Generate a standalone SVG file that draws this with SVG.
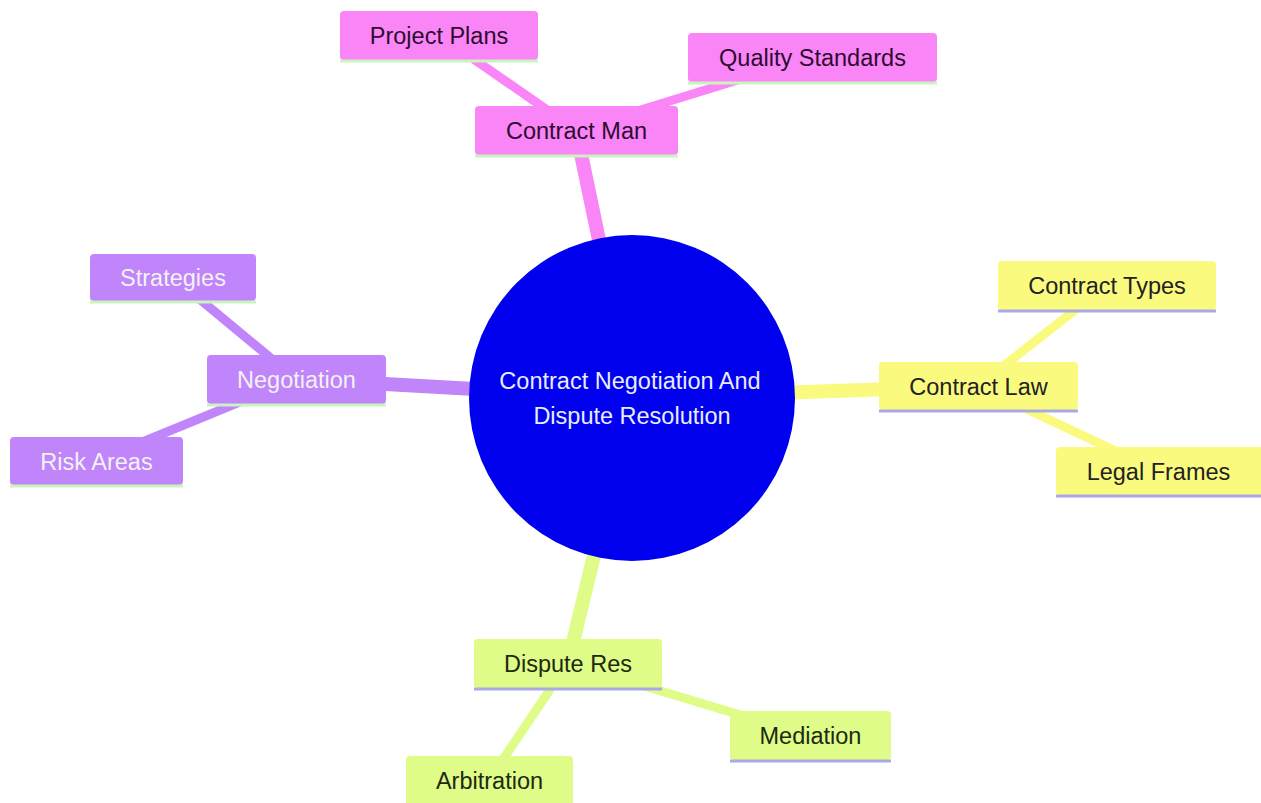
<svg xmlns="http://www.w3.org/2000/svg" width="1261" height="803" viewBox="0 0 1261 803">
<style>
text{font-family:"Liberation Sans",Arial,sans-serif;font-size:23.5px;text-anchor:middle}
.e1{stroke-width:14;stroke-linecap:butt;fill:none}
.e2{stroke-width:9;stroke-linecap:butt;fill:none}
.pk{fill:#f985f6}.pkS{stroke:#f985f6}.pkT{fill:#2e0b30}
.pu{fill:#c084fb}.puS{stroke:#c084fb}.puT{fill:#f2f2f2}
.ye{fill:#fafa7e}.yeS{stroke:#fafa7e}.yeT{fill:#222222}
.gr{fill:#dffb88}.grS{stroke:#dffb88}.grT{fill:#1c2a10}
.lg{stroke:#c9f3bf;stroke-width:3}
.lv{stroke:#a9a9e6;stroke-width:3}
</style>
<rect width="1261" height="803" fill="#ffffff"/>
<g id="connectors">
<line class="e1 pkS" x1="632" y1="398" x2="576" y2="130"/>
<line class="e1 puS" x1="632" y1="398" x2="296" y2="379"/>
<line class="e1 yeS" x1="632" y1="398" x2="978" y2="386"/>
<line class="e1 grS" x1="632" y1="398" x2="568" y2="663"/>
<line class="e2 pkS" x1="439" y1="35" x2="576" y2="130"/>
<line class="e2 pkS" x1="812" y1="57" x2="576" y2="130"/>
<line class="e2 puS" x1="173" y1="277" x2="296" y2="379"/>
<line class="e2 puS" x1="96" y1="461" x2="296" y2="379"/>
<line class="e2 yeS" x1="1107" y1="285" x2="978" y2="386"/>
<line class="e2 yeS" x1="1158" y1="471" x2="978" y2="386"/>
<line class="e2 grS" x1="489" y1="780" x2="568" y2="663"/>
<line class="e2 grS" x1="810" y1="736" x2="568" y2="663"/>
</g>
<g id="root">
<circle cx="632" cy="398" r="163" fill="#0000ef"/>
<text x="630" y="389" fill="#e8ecf8">Contract Negotiation And</text>
<text x="632" y="424" fill="#e8ecf8">Dispute Resolution</text>
</g>
<g id="contract-man">
<rect class="pk" x="475" y="106" width="203" height="49" rx="4"/>
<line class="lg" x1="475" y1="156" x2="678" y2="156"/>
<text class="pkT" x="576.5" y="139">Contract Man</text>
</g>
<g id="project-plans">
<rect class="pk" x="340" y="11" width="198" height="49" rx="4"/>
<line class="lg" x1="340" y1="61" x2="538" y2="61"/>
<text class="pkT" x="439" y="44">Project Plans</text>
</g>
<g id="quality-standards">
<rect class="pk" x="688" y="33" width="249" height="49" rx="4"/>
<line class="lg" x1="688" y1="83" x2="937" y2="83"/>
<text class="pkT" x="812.5" y="66">Quality Standards</text>
</g>
<g id="negotiation">
<rect class="pu" x="207" y="355" width="179" height="49" rx="4"/>
<line class="lg" x1="207" y1="405" x2="386" y2="405"/>
<text class="puT" x="296.5" y="388">Negotiation</text>
</g>
<g id="strategies">
<rect class="pu" x="90" y="254" width="166" height="47" rx="4"/>
<line class="lg" x1="90" y1="302" x2="256" y2="302"/>
<text class="puT" x="173" y="286">Strategies</text>
</g>
<g id="risk-areas">
<rect class="pu" x="10" y="437" width="173" height="48" rx="4"/>
<line class="lg" x1="10" y1="486" x2="183" y2="486"/>
<text class="puT" x="96.5" y="470">Risk Areas</text>
</g>
<g id="contract-law">
<rect class="ye" x="879" y="362" width="199" height="48" rx="4"/>
<line class="lv" x1="879" y1="411" x2="1078" y2="411"/>
<text class="yeT" x="978.5" y="395">Contract Law</text>
</g>
<g id="contract-types">
<rect class="ye" x="998" y="261" width="218" height="49" rx="4"/>
<line class="lv" x1="998" y1="311" x2="1216" y2="311"/>
<text class="yeT" x="1107" y="294">Contract Types</text>
</g>
<g id="legal-frames">
<rect class="ye" x="1056" y="447" width="210" height="48" rx="4"/>
<line class="lv" x1="1056" y1="496" x2="1261" y2="496"/>
<text class="yeT" x="1158.5" y="480">Legal Frames</text>
</g>
<g id="dispute-res">
<rect class="gr" x="474" y="639" width="188" height="49" rx="4"/>
<line class="lv" x1="474" y1="689" x2="662" y2="689"/>
<text class="grT" x="568" y="672">Dispute Res</text>
</g>
<g id="mediation">
<rect class="gr" x="730" y="711" width="161" height="49" rx="4"/>
<line class="lv" x1="730" y1="761" x2="891" y2="761"/>
<text class="grT" x="810.5" y="744">Mediation</text>
</g>
<g id="arbitration">
<rect class="gr" x="406" y="756" width="167" height="52" rx="4"/>
<text class="grT" x="489.5" y="789">Arbitration</text>
</g>
</svg>
